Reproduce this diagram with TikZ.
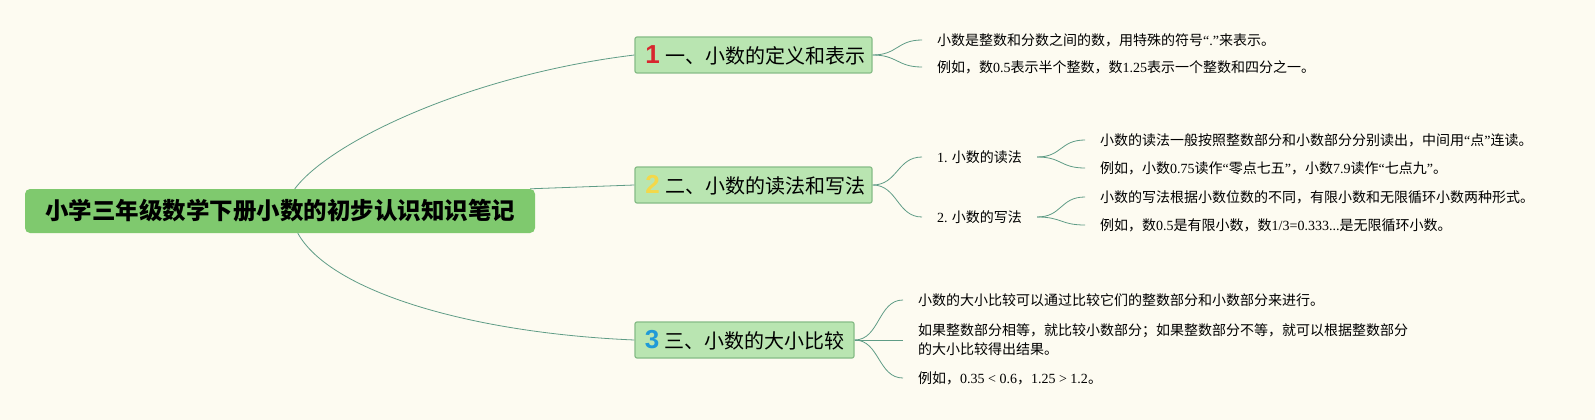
\documentclass[tikz,border=0pt]{standalone}
\usepackage{fontspec}
\setmainfont{Noto Sans CJK SC}
\newfontfamily\latf{Liberation Serif}
\newfontfamily\numf{Liberation Sans}
\newcommand\lsr[1]{{\latf #1}}
\newcommand\bicon[2]{{\numf\bfseries\fontsize{26}{26}\selectfont\color{#1}#2}}
\definecolor{bgc}{HTML}{FDFBF1}
\definecolor{rootc}{HTML}{7FC96E}
\definecolor{brfill}{HTML}{B9E5B1}
\definecolor{brdraw}{HTML}{86BC86}
\definecolor{connc}{HTML}{5F9C86}
\definecolor{ic1}{HTML}{D8262E}
\definecolor{ic2}{HTML}{F3D84A}
\definecolor{ic3}{HTML}{1F9AD8}
\tikzset{
  rootbox/.style={fill=rootc, rounded corners=5pt, minimum width=510pt, minimum height=44pt, inner sep=0pt,
    font=\fontsize{23.5}{28}\selectfont\bfseries},
  branchbox/.style={fill=brfill, draw=brdraw, line width=1.2pt, rounded corners=2pt, minimum height=36pt, inner sep=0pt,
    font=\fontsize{20}{24}\selectfont},
  leaf/.style={anchor=west, inner xsep=15pt, inner ysep=2pt, align=left,
    font=\fontsize{14}{19}\selectfont},
  conn/.style={draw=connc, line width=0.8pt}
}
\begin{document}
\begin{tikzpicture}[x=1pt,y=-1pt]
\fill[bgc] (0,0) rectangle (1595,420);
\useasboundingbox (0,0) rectangle (1595,420);

\node[rootbox] (root) at (280,211) {小学三年级数学下册小数的初步认识知识笔记};

\node[branchbox, minimum width=237pt] (b1) at (753.5,55) {\hspace{4pt}\bicon{ic1}{1}\hspace{6pt}一、小数的定义和表示};
\node[branchbox, minimum width=237pt] (b2) at (753.5,185) {\hspace{4pt}\bicon{ic2}{2}\hspace{6pt}二、小数的读法和写法};
\node[branchbox, minimum width=219pt] (b3) at (744.5,340) {\bicon{ic3}{3}\hspace{5pt}三、小数的大小比较};

\draw[conn] ([xshift=270pt]root.north west) .. controls +(35,-47) and +(-165,20) .. (b1.west);
\draw[conn] ([xshift=-5pt]root.north east) -- (b2.west);
\draw[conn] ([xshift=273pt]root.south west) .. controls +(32,58) and +(-165,-7) .. (b3.west);

% branch 1 leaves
\node[leaf] (l11) at (922,40) {小数是整数和分数之间的数，用特殊的符号\lsr{“.”}来表示。};
\node[leaf] (l12) at (922,67) {例如，数\lsr{0.5}表示半个整数，数\lsr{1.25}表示一个整数和四分之一。};
\foreach \t in {l11,l12}
  \draw[conn] (b1.east) .. controls +(25,0) and +(-25,0) .. (\t.west);

% branch 2
\node[leaf] (s21) at (922,157) {\lsr{1.} 小数的读法};
\node[leaf] (s22) at (922,217) {\lsr{2.} 小数的写法};
\foreach \t in {s21,s22}
  \draw[conn] (b2.east) .. controls +(25,0) and +(-25,0) .. (\t.west);

\node[leaf] (l211) at (1085,140) {小数的读法一般按照整数部分和小数部分分别读出，中间用\lsr{“}点\lsr{”}连读。};
\node[leaf] (l212) at (1085,168) {例如，小数\lsr{0.75}读作\lsr{“}零点七五\lsr{”}，小数\lsr{7.9}读作\lsr{“}七点九\lsr{”}。};
\node[leaf] (l221) at (1085,197) {小数的写法根据小数位数的不同，有限小数和无限循环小数两种形式。};
\node[leaf] (l222) at (1085,225) {例如，数\lsr{0.5}是有限小数，数\lsr{1/3=0.333...}是无限循环小数。};
\foreach \t in {l211,l212}
  \draw[conn] (s21.east) .. controls +(25,0) and +(-25,0) .. (\t.west);
\foreach \t in {l221,l222}
  \draw[conn] (s22.east) .. controls +(25,0) and +(-25,0) .. (\t.west);

% branch 3 leaves
\node[leaf] (l31) at (903,300) {小数的大小比较可以通过比较它们的整数部分和小数部分来进行。};
\node[leaf] (l32) at (903,340) {如果整数部分相等，就比较小数部分；如果整数部分不等，就可以根据整数部分\\的大小比较得出结果。};
\node[leaf] (l33) at (903,378) {例如，\lsr{0.35 < 0.6}，\lsr{1.25 > 1.2}。};
\foreach \t in {l31,l32,l33}
  \draw[conn] (b3.east) .. controls +(25,0) and +(-25,0) .. (\t.west);
\end{tikzpicture}
\end{document}
